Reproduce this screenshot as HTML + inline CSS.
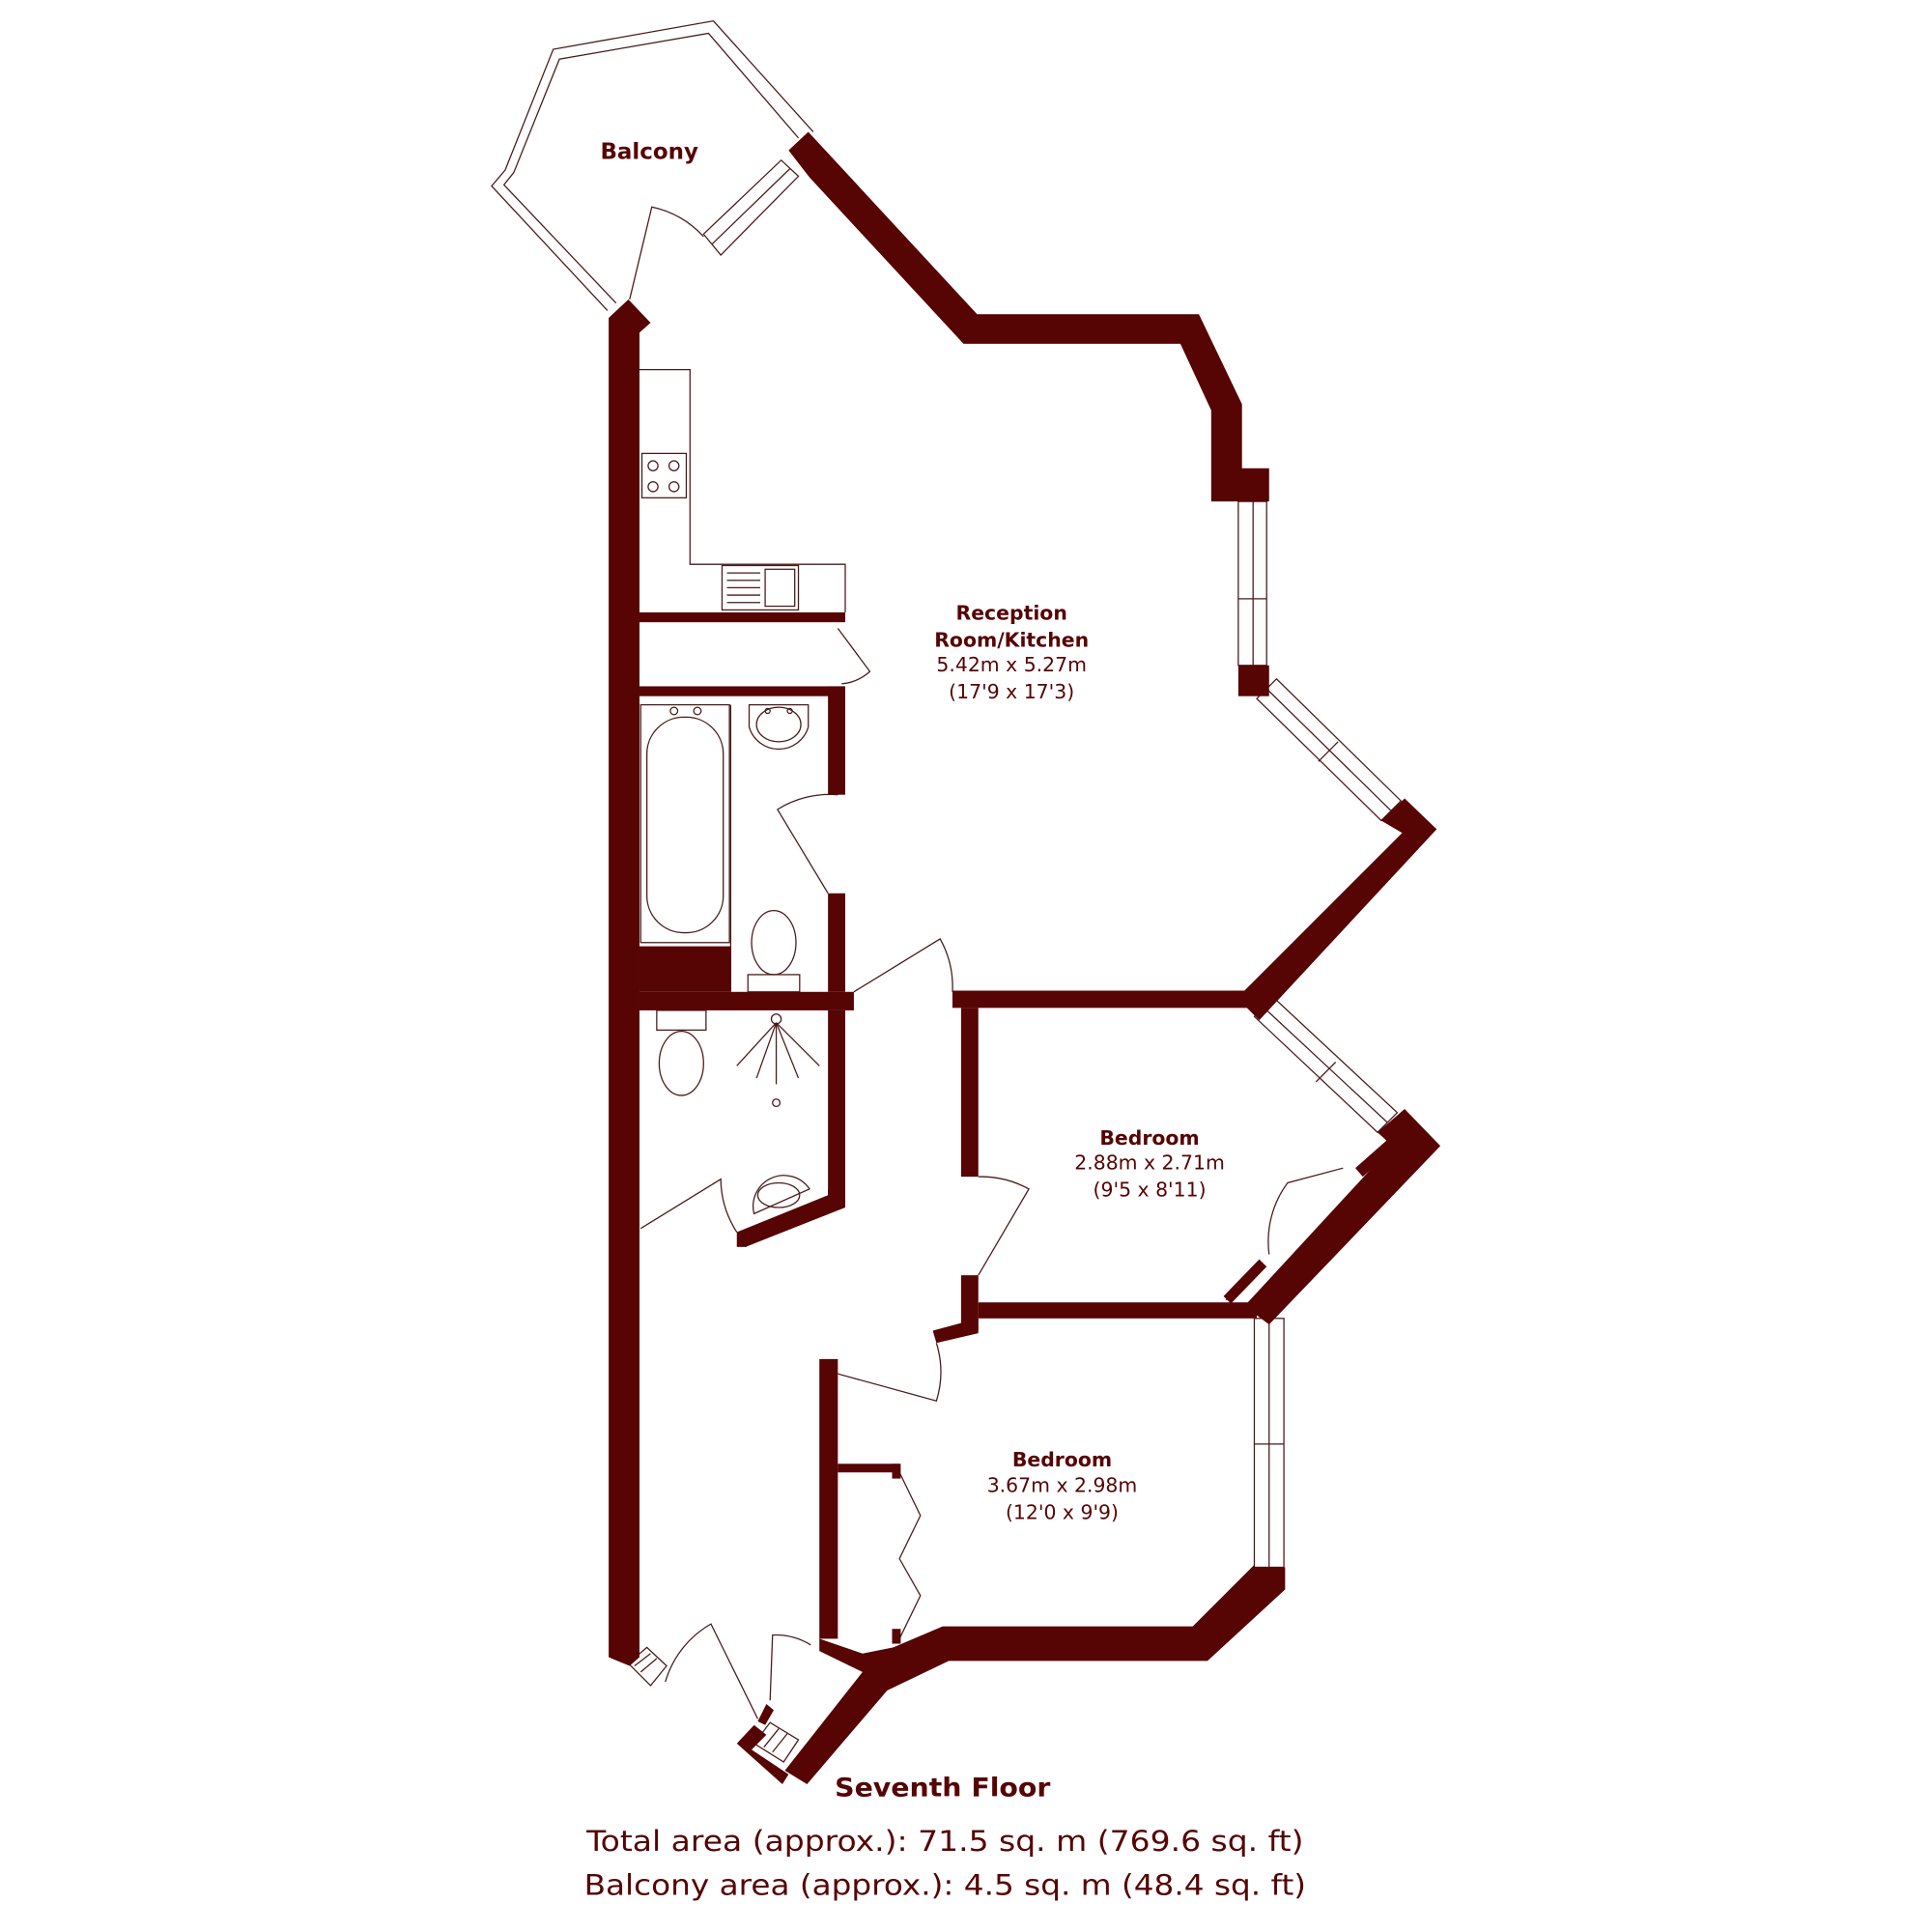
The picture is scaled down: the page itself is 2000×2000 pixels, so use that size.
<!DOCTYPE html>
<html><head><meta charset="utf-8"><style>html,body{margin:0;padding:0;background:#fff}svg{display:block}</style></head>
<body>
<svg width="2000" height="2000" viewBox="0 0 1568 1568" xmlns="http://www.w3.org/2000/svg" font-family="'DejaVu Sans','Liberation Sans',sans-serif">
<rect x="0" y="0" width="1568" height="1568" fill="#fff"/>
<g fill="none" stroke="#4a1a1a" stroke-width="1">
<polyline points="493,252 399,151 410,138 449,40 579,17 660,107"/>
<polyline points="500,246 409,150 417,140 454,48 575,27 648,112"/>
<polygon points="571,190 634,130 648,143 585,207"/>
<line x1="578" y1="198" x2="641" y2="137"/>
<path d="M511,243 L529,168 A80,80 0 0 1 571,192"/>
<polyline points="519,300 560,300 560,458 686,458 686,497"/>
<rect x="521" y="368" width="36" height="36"/>
<circle cx="530" cy="378" r="4"/><circle cx="547" cy="378" r="4"/><circle cx="530" cy="395" r="4"/><circle cx="547" cy="395" r="4"/>
<rect x="586" y="459" width="62" height="36"/><rect x="621" y="462" width="24" height="30"/>
<line x1="590" y1="465" x2="617" y2="465"/><line x1="590" y1="471" x2="617" y2="471"/><line x1="590" y1="477" x2="617" y2="477"/><line x1="590" y1="483" x2="617" y2="483"/><line x1="590" y1="489" x2="617" y2="489"/>
<path d="M680,510 L706,545 A40,40 0 0 1 683,555"/>
<rect x="520" y="572" width="72" height="193"/>
<rect x="525" y="582" width="62" height="175" rx="30"/>
<circle cx="547" cy="577" r="3"/><circle cx="566" cy="577" r="3"/>
<line x1="593" y1="572" x2="593" y2="805"/>
<path d="M608,572 L656,572 L656,590 A25,25 0 0 1 608,590 Z"/>
<ellipse cx="632" cy="588" rx="18" ry="14"/>
<circle cx="623" cy="577" r="2"/><circle cx="641" cy="577" r="2"/>
<ellipse cx="628" cy="765" rx="18" ry="26"/>
<rect x="607" y="791" width="42" height="14"/>
<path d="M672,725 L631,657 A80,80 0 0 1 680,645"/>
<rect x="533" y="820" width="40" height="16"/>
<ellipse cx="553" cy="863" rx="18" ry="26"/>
<circle cx="630" cy="827" r="4"/><circle cx="630" cy="895" r="3"/>
<line x1="630" y1="830" x2="598" y2="865"/><line x1="630" y1="830" x2="665" y2="865"/><line x1="630" y1="830" x2="614" y2="875"/><line x1="630" y1="830" x2="648" y2="875"/><line x1="630" y1="830" x2="630" y2="880"/>
<path d="M612,985 L657,965 A25,25 0 0 0 612,985 Z"/>
<ellipse cx="632" cy="970" rx="17" ry="10"/>
<path d="M520,997 L585,957 A80,80 0 0 0 598,1000"/>
<path d="M693,805 L763,762 A80,80 0 0 1 773,805"/>
<path d="M794,1035 L835,965 A80,80 0 0 0 794,955"/>
<path d="M680,1115 L760,1137 A80,80 0 0 0 760,1090"/>
<path d="M995,1055 L1022,1025 M1030,1018 A80,80 0 0 1 1045,960 L1090,948"/>
<polyline points="730,1195 747,1230 730,1265 747,1295 730,1330"/>
<path d="M540,1365 A80,80 0 0 1 577,1318 L615,1395"/>
<path d="M625,1380 L627,1327 A55,55 0 0 1 658,1335"/>
<rect x="1005" y="407" width="23" height="133"/><line x1="1017" y1="407" x2="1017" y2="540"/><line x1="1005" y1="486" x2="1028" y2="486"/>
<polygon points="1020,567 1036,551 1137,650 1121,666"/><line x1="1028" y1="559" x2="1129" y2="658"/><line x1="1070" y1="618" x2="1086" y2="602"/>
<polygon points="1018,825 1034,810 1134,903 1118,919"/><line x1="1026" y1="818" x2="1126" y2="911"/><line x1="1068" y1="878" x2="1084" y2="862"/>
<rect x="1018" y="1070" width="24" height="202"/><line x1="1030" y1="1070" x2="1030" y2="1272"/><line x1="1018" y1="1172" x2="1042" y2="1172"/>
<polygon points="510,1350 525,1337 541,1352 528,1368"/><line x1="515" y1="1352" x2="528" y2="1342"/><line x1="520" y1="1357" x2="533" y2="1346"/>
<polygon points="612,1415 625,1398 648,1412 636,1430"/><line x1="620" y1="1418" x2="632" y2="1403"/><line x1="627" y1="1422" x2="639" y2="1407"/>
</g>
<g fill="#560404" stroke="none">
<polygon points="494,258 510,243 528,262 519,270 519,1345 511,1352 494,1345"/>
<polygon points="640,122 656,107 793,255 973,255 1008,328 1008,380 1030,380 1030,407 983,407 983,333 958,279 782,279 657,144"/>
<rect x="1005" y="540" width="25" height="25"/>
<polygon points="1121,666 1140,648 1166,673 1022,828 1004,810 1138,676"/>
<polygon points="1118,919 1140,900 1169,930 1030,1075 1010,1060 1130,930"/>
<polygon points="1100,948 1126,925 1132,932 1106,955"/>
<polygon points="993,1052 1022,1022 1028,1028 999,1058"/>
<rect x="773" y="804" width="242" height="14"/>
<rect x="780" y="818" width="14" height="137"/>
<rect x="780" y="1035" width="14" height="45"/>
<rect x="794" y="1057" width="226" height="13"/>
<polygon points="757,1080 794,1070 794,1082 760,1090"/>
<polygon points="1018,1272 1043,1272 1043,1290 980,1348 770,1348 720,1372 655,1448 637,1437 700,1357 665,1340 665,1330 700,1342 725,1337 765,1320 968,1320 1018,1270"/>
<rect x="665" y="1103" width="15" height="227"/>
<rect x="680" y="1188" width="50" height="7"/><rect x="724" y="1188" width="7" height="12"/>
<rect x="724" y="1322" width="7" height="12"/>
<polygon points="598,1415 612,1400 622,1408 610,1420 640,1440 635,1448"/>
<polygon points="615,1397 622,1383 628,1388 621,1400"/>
<rect x="519" y="497" width="167" height="8"/>
<rect x="519" y="557" width="167" height="8"/>
<rect x="672" y="557" width="14" height="88"/>
<rect x="672" y="725" width="14" height="80"/>
<rect x="519" y="768" width="74" height="37"/>
<rect x="519" y="805" width="174" height="15"/>
<rect x="672" y="820" width="14" height="155"/>
<polygon points="672,965 686,965 686,980 605,1012 598,1000 672,970"/>
<polygon points="598,1000 606,1000 606,1012 598,1012"/>
</g>
<g fill="#560404" text-anchor="middle">
<text x="527" y="129" font-size="18" font-weight="bold">Balcony</text>
<text x="821" y="503" font-size="16" font-weight="bold">Reception</text>
<text x="821" y="525" font-size="16" font-weight="bold">Room/Kitchen</text>
<text x="821" y="545" font-size="16">5.42m x 5.27m</text>
<text x="821" y="567" font-size="16">(17'9 x 17'3)</text>
<text x="933" y="929" font-size="16" font-weight="bold">Bedroom</text>
<text x="933" y="949" font-size="16">2.88m x 2.71m</text>
<text x="933" y="971" font-size="16">(9'5 x 8'11)</text>
<text x="862" y="1190" font-size="16" font-weight="bold">Bedroom</text>
<text x="862" y="1211" font-size="16">3.67m x 2.98m</text>
<text x="862" y="1233" font-size="16">(12'0 x 9'9)</text>
<text x="765" y="1458" font-size="21" font-weight="bold" textLength="175" lengthAdjust="spacingAndGlyphs">Seventh Floor</text>
<text x="767" y="1502" font-size="23" textLength="582" lengthAdjust="spacingAndGlyphs">Total area (approx.): 71.5 sq. m (769.6 sq. ft)</text>
<text x="767" y="1538" font-size="23" textLength="586" lengthAdjust="spacingAndGlyphs">Balcony area (approx.): 4.5 sq. m (48.4 sq. ft)</text>
</g>
</svg>
</body></html>
